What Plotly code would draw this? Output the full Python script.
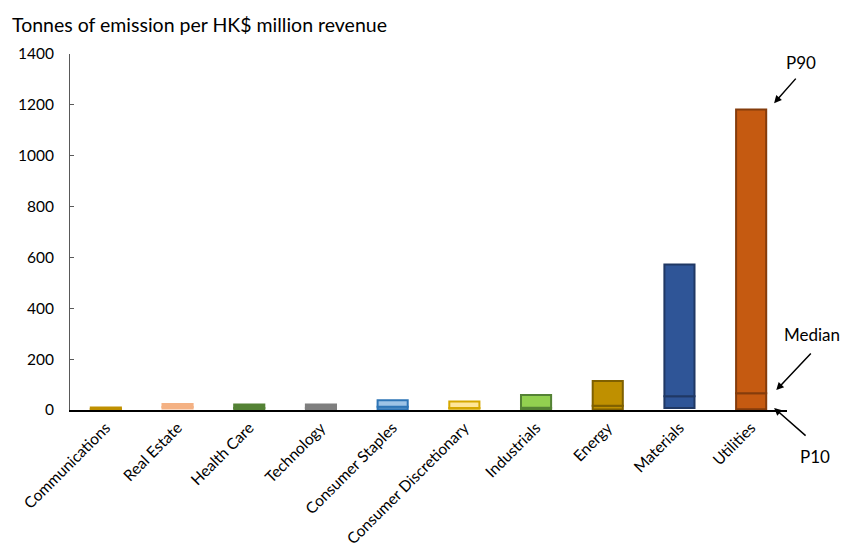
import plotly.graph_objects as go

# Emission intensity distribution by sector (tonnes per HK$ million revenue)
sectors = ["Communications", "Real Estate", "Health Care", "Technology",
           "Consumer Staples", "Consumer Discretionary", "Industrials",
           "Energy", "Materials", "Utilities"]
p10 = [1, 6, 2, 2, 3, 5, 3, 2, 8, 3]
median = [4, 12, 8, 8, 13, 8, 9, 17, 54, 66]
p90 = [10, 24, 22, 22, 38, 33, 59, 114, 572, 1182]

fill_colors = ["#BF9000", "#F4B183", "#548235", "#7F7F7F", "#9DC3E6",
               "#FFE699", "#92D050", "#BF9000", "#2F5597", "#C55A11"]
line_colors = ["#BF9000", "#F4B183", "#548235", "#7F7F7F", "#2E75B6",
               "#D6A800", "#548235", "#7F6000", "#203864", "#843C0C"]

FONT = "Lato, Calibri, Carlito, sans-serif"

fig = go.Figure()

# lower segment: P10 -> median
fig.add_trace(go.Bar(
    x=sectors,
    base=p10,
    y=[m - a for m, a in zip(median, p10)],
    marker=dict(color=fill_colors, line=dict(color=line_colors, width=2)),
    width=0.42,
    hoverinfo="skip",
))
# upper segment: median -> P90
fig.add_trace(go.Bar(
    x=sectors,
    base=median,
    y=[b - m for b, m in zip(p90, median)],
    marker=dict(color=fill_colors, line=dict(color=line_colors, width=2)),
    width=0.42,
    hoverinfo="skip",
))

annotations = [
    dict(text="Tonnes of emission per HK$ million revenue", xref="paper", yref="paper",
         x=-0.083, y=1.045, xanchor="left", yanchor="bottom", showarrow=False,
         font=dict(size=19.5, color="#000000")),
    # markers explaining the bar ends
    dict(text="P90", xref="paper", yref="paper", x=1.02, y=0.975,
         xanchor="center", yanchor="middle", showarrow=False, font=dict(size=17)),
    dict(text="", xref="paper", yref="paper", x=0.982, y=0.862, ax=23, ay=-26,
         showarrow=True, arrowhead=2, arrowsize=1, arrowwidth=1.5, arrowcolor="#000000"),
    dict(text="Median", xref="paper", yref="paper", x=1.035, y=0.211,
         xanchor="center", yanchor="middle", showarrow=False, font=dict(size=17)),
    dict(text="", xref="paper", yref="paper", x=0.985, y=0.056, ax=36, ay=-38,
         showarrow=True, arrowhead=2, arrowsize=1, arrowwidth=1.5, arrowcolor="#000000"),
    dict(text="P10", xref="paper", yref="paper", x=1.039, y=-0.132,
         xanchor="center", yanchor="middle", showarrow=False, font=dict(size=17)),
    dict(text="", xref="paper", yref="paper", x=0.982, y=0.0056, ax=33, ay=29,
         showarrow=True, arrowhead=2, arrowsize=1, arrowwidth=1.5, arrowcolor="#000000"),
]

fig.update_layout(
    width=842, height=550,
    margin=dict(l=70, r=55, t=54, b=140),
    paper_bgcolor="white", plot_bgcolor="white",
    barmode="overlay",
    showlegend=False,
    font=dict(family=FONT, size=15, color="#000000"),
    annotations=annotations,
)
fig.update_yaxes(
    range=[0, 1400], dtick=200, showgrid=False, zeroline=False,
    showline=True, linecolor="#595959", linewidth=1,
    ticks="inside", ticklen=4, tickcolor="#595959",
    tickfont=dict(size=15.5), ticklabelstandoff=12, automargin=False,
)
fig.update_xaxes(
    showgrid=False, showline=True, linecolor="#000000", linewidth=1.5,
    ticks="", tickangle=-45, tickfont=dict(size=15.5), ticklabelstandoff=1,
    automargin=False,
)

fig.write_html("out.html")
